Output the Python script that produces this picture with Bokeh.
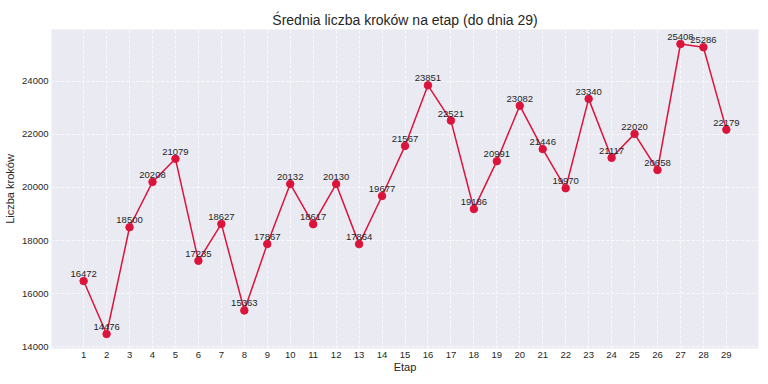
from bokeh.plotting import figure
from bokeh.models import ColumnDataSource, LabelSet, FixedTicker, Range1d
from bokeh.core.properties import value
from bokeh.embed import file_html
from bokeh.resources import INLINE

etap = list(range(1, 30))
kroki = [16472, 14476, 18500, 20208, 21079, 17235, 18627, 15363, 17867, 20132,
         18617, 20130, 17864, 19677, 21567, 23851, 22521, 19186, 20991, 23082,
         21446, 19970, 23340, 21117, 22020, 20658, 25408, 25286, 22179]
y_ticks = [14000, 16000, 18000, 20000, 22000, 24000]
title = "Średnia liczba kroków na etap (do dnia 29)"
x_label = "Etap"
y_label = "Liczba kroków"

FONT = "Liberation Sans"
TXT = "#262626"

src = ColumnDataSource(dict(x=etap, y=kroki, lab=[str(v) for v in kroki]))

xpad = (max(etap) - min(etap)) * 0.05
ypad = (max(kroki) - min(kroki)) * 0.05

p = figure(width=768, height=384, output_backend="svg", toolbar_location=None,
           x_range=Range1d(min(etap) - xpad, max(etap) + xpad),
           y_range=Range1d(min(kroki) - ypad, max(kroki) + ypad),
           min_border_left=51, min_border_right=10, min_border_top=29, min_border_bottom=36)

p.background_fill_color = "#EAEAF2"
p.border_fill_color = "white"
p.outline_line_color = None

p.title.text = title
p.title.align = "center"
p.title.text_font = FONT
p.title.text_font_size = "14px"
p.title.text_font_style = "normal"
p.title.text_color = TXT
p.title.offset = 0
p.title.standoff = 4

for ax in (p.xaxis[0], p.yaxis[0]):
    ax.axis_line_color = None
    ax.major_tick_line_color = None
    ax.minor_tick_line_color = None
    ax.major_tick_out = 0
    ax.major_tick_in = 0
    ax.major_label_text_font = FONT
    ax.major_label_text_font_size = "9.5px"
    ax.major_label_text_color = TXT
    ax.axis_label_text_font = FONT
    ax.axis_label_text_font_size = "11px"
    ax.axis_label_text_font_style = "normal"
    ax.axis_label_text_color = TXT
    ax.major_label_standoff = 3

p.xaxis.axis_label_standoff = 0
p.yaxis.axis_label_standoff = 3
p.xaxis.ticker = FixedTicker(ticks=etap)
p.yaxis.ticker = FixedTicker(ticks=y_ticks)
p.xaxis.axis_label = x_label
p.yaxis.axis_label = y_label

p.grid.grid_line_color = "white"
p.grid.grid_line_alpha = 0.9
p.grid.grid_line_dash = "3 2"
p.grid.grid_line_width = 0.8

p.line("x", "y", source=src, line_color="#DC143C", line_width=1.5)
p.scatter("x", "y", source=src, size=7.5, fill_color="#DC143C", line_color="#DC143C")

labels = LabelSet(x="x", y="y", text="lab", source=src, x_offset=0, y_offset=4,
                  text_align="center", text_baseline="alphabetic",
                  text_font=value(FONT), text_font_size=value("9.5px"), text_color=TXT)
p.add_layout(labels)

open("out.html", "w").write(file_html(p, INLINE))
